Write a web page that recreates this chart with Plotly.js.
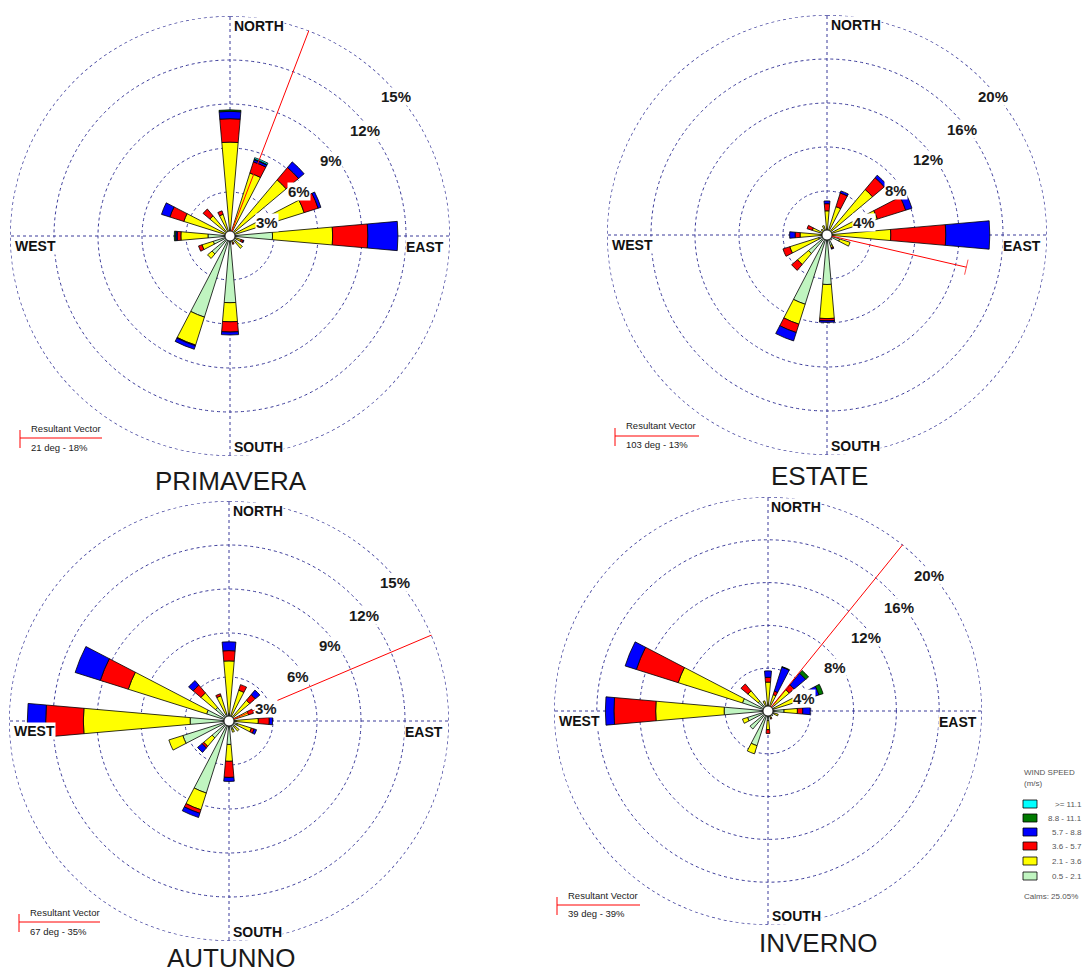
<!DOCTYPE html>
<html><head><meta charset="utf-8">
<script src="https://cdn.plot.ly/plotly-3.0.1.min.js"></script>
<style>html,body{margin:0;padding:0;background:#fff}#chart{width:1089px;height:972px}</style>
</head><body><div id="chart"></div>
<script>
// ---------------- DATA ----------------
const directions = [0,22.5,45,67.5,90,112.5,135,157.5,180,202.5,225,247.5,270,292.5,315,337.5];
const speedClasses = ['0.5 - 2.1','2.1 - 3.6','3.6 - 5.7','5.7 - 8.8','8.8 - 11.1','>= 11.1'];
const seasons = ['PRIMAVERA','ESTATE','AUTUNNO','INVERNO'];

// PRIMAVERA (% frequency per speed class, N..NNW)
const primavera_05_21  = [0.3,0.2,0.3,0.3,2.9,0.4,0.5,0.3,4.55,5.8,1.6,1.2,1.5,0.3,0.3,0.2];
const primavera_21_36  = [6.1,4.3,4.7,5.0,4.1,0.4,0.6,0.2,1.3,2.0,0.4,0.8,1.85,3.0,1.5,1.35];
const primavera_36_57  = [1.6,0.8,1.1,1.0,2.4,0.15,0,0.1,0.7,0.05,0,0.25,0.25,1.0,0.6,0.25];
const primavera_57_88  = [0.5,0.15,0.5,0.2,2.05,0.05,0,0,0.2,0.25,0,0,0.1,0.6,0,0];
const primavera_88_111 = [0.1,0.05,0,0,0,0,0,0,0,0,0,0,0.1,0,0,0];
const primavera_111    = [0,0.1,0,0,0,0,0,0,0,0,0,0,0,0,0,0];

// ESTATE
const estate_05_21  = [0.2,0.2,0.3,0.3,0.5,1.2,0.6,1.0,4.5,6.6,2.2,0.8,0.5,0.3,0.3,0.3];
const estate_21_36  = [2.0,2.5,5.1,4.5,5.3,1.0,0,0.2,3.1,1.9,1.3,2.75,1.95,1.1,0.4,0.6];
const estate_36_57  = [0.65,1.3,1.4,2.7,5.0,0,0,0.1,0.2,0.8,0.7,0.65,0.45,0.5,0,0];
const estate_57_88  = [0.25,0.2,0.3,0.6,4.0,0,0,0.05,0.15,0.8,0,0,0.5,0,0,0];
const estate_88_111 = [0,0,0,0,0,0,0,0,0,0,0,0,0,0,0,0];
const estate_111    = [0,0,0,0,0,0,0,0,0,0,0,0,0,0,0,0];

// AUTUNNO
const autunno_05_21  = [0.5,0.4,0.4,0.4,0.5,0.6,0.5,0.6,1.6,5.15,1.5,3.3,2.65,1.6,1.2,0.5];
const autunno_21_36  = [3.6,1.8,1.45,1.0,1.5,1.0,0.4,0.2,1.15,1.2,0.75,1.0,7.28,5.6,1.3,1.3];
const autunno_36_57  = [0.7,0.4,0.5,0.35,0.75,0.2,0,0,1.1,0.25,0.15,0,2.57,2.0,0.7,0.15];
const autunno_57_88  = [0.6,0,0.4,0,0.22,0.17,0,0,0.27,0.3,0.4,0,1.25,1.8,0.4,0];
const autunno_88_111 = [0,0,0,0,0,0,0,0,0,0,0,0,0,0,0,0];
const autunno_111    = [0,0,0,0,0,0,0,0,0,0,0,0,0,0,0,0];

// INVERNO
const inverno_05_21  = [0.4,0.4,0.8,0.6,1.5,0.6,0.6,0.5,0.9,3.4,2.2,2.0,4.1,2.5,1.2,0.5];
const inverno_21_36  = [2.3,1.2,1.8,2.4,1.25,0.4,0,0.2,0.85,0.8,0,0.5,6.4,6.3,1.25,0.5];
const inverno_36_57  = [0.45,0.35,0.6,0.7,0.5,0,0,0.1,0.35,0,0,0,3.9,4.1,0.85,0];
const inverno_57_88  = [0.6,2.35,1.4,1.3,0.7,0,0,0,0,0,0,0,0.8,1.1,0,0];
const inverno_88_111 = [0,0.05,0.35,0.4,0,0,0,0,0,0,0,0,0,0,0,0];
const inverno_111    = [0,0,0,0,0,0,0,0,0,0,0,0,0,0,0,0];

const ringTicks_primavera = [3,6,9,12,15];
const ringTicks_estate    = [4,8,12,16,20];
const ringTicks_autunno   = [3,6,9,12,15];
const ringTicks_inverno   = [4,8,12,16,20];

const resultantDeg = [21,103,67,39];
const resultantPct = [18,13,35,39];
const calmsPct = 25.05;

// ---------------- LAYOUT / STYLE ----------------
const W = 1089, H = 972;
const classColors = ['#c0f5c0','#ffff00','#ff0000','#0000ff','#007a00','#00ffff'];
const gridCol = '#3b3b9a';
const centers = [[230,236],[827,235],[229,721],[768,711]];
const radii = [220,220,220,214];
const frameHalf = [228,230,223,213];
const titlePos = [[231,481],[819,476],[231,958],[818,943]];
const resBox = [[20,428,438,447,102],[615,426,436,444,699],[19,912,922,931,100],[557,895,905,913,640]];

const seasonData = [
  [primavera_05_21,primavera_21_36,primavera_36_57,primavera_57_88,primavera_88_111,primavera_111],
  [estate_05_21,estate_21_36,estate_36_57,estate_57_88,estate_88_111,estate_111],
  [autunno_05_21,autunno_21_36,autunno_36_57,autunno_57_88,autunno_88_111,autunno_111],
  [inverno_05_21,inverno_21_36,inverno_36_57,inverno_57_88,inverno_88_111,inverno_111]
];
const seasonTicks = [ringTicks_primavera,ringTicks_estate,ringTicks_autunno,ringTicks_inverno];

const px = x => x / W;
const py = y => 1 - y / H;

const traces = [];
const layout = {
  width: W, height: H,
  margin: {l:0, r:0, t:0, b:0},
  paper_bgcolor: '#fff',
  showlegend: false,
  hovermode: false,
  annotations: [],
  shapes: []
};

const pctOffsets = [[36.5,-13],[69,-45],[101,-76],[135,-106],[166,-139]];
const compass = [['NORTH',2.5,-210],['EAST',175,11],['SOUTH',3,211],['WEST',-216,10]];
const ringTheta = [];
for (let a = 0; a <= 360; a += 1) ringTheta.push(a);

seasonData.forEach((classes, s) => {
  const sp = 'polar' + (s ? s + 1 : '');
  const [cx, cy] = centers[s];
  const R = radii[s];
  const ticks = seasonTicks[s];
  const rmax = ticks[ticks.length - 1];
  const k = R / 220;

  layout[sp] = {
    domain: {x: [px(cx - R), px(cx + R)], y: [py(cy + R), py(cy - R)]},
    bgcolor: '#fff',
    barmode: 'stack',
    radialaxis: {
      range: [0, rmax], tickvals: ticks, showticklabels: false, ticks: '',
      showline: false, showgrid: true, gridcolor: gridCol, gridwidth: 1, griddash: '3px,3px',
      layer: 'below traces'
    },
    angularaxis: {
      rotation: 90, direction: 'clockwise', tickvals: [0,90,180,270],
      showticklabels: false, ticks: '', showline: false, showgrid: true,
      gridcolor: gridCol, gridwidth: 1, griddash: '3px,3px', layer: 'below traces'
    }
  };

  // outermost ring (grid at the outer tick)
  traces.push({
    type: 'scatterpolar', subplot: sp, mode: 'lines', cliponaxis: false,
    r: ringTheta.map(() => rmax), theta: ringTheta,
    line: {color: gridCol, width: 1.4, dash: '3px,3px'}
  });

  classes.forEach((vals, c) => {
    traces.push({
      type: 'barpolar', subplot: sp, r: vals, theta: directions, width: 10,
      name: speedClasses[c],
      marker: {color: classColors[c], line: {color: '#000', width: 0.8}}
    });
  });

  // resultant vector
  const deg = resultantDeg[s], mag = resultantPct[s];
  const rad = deg * Math.PI / 180;
  const pxPer = R / rmax;
  const rClip = frameHalf[s] / Math.max(Math.abs(Math.sin(rad)), Math.abs(Math.cos(rad))) / pxPer;
  const clipped = mag > rClip;
  const rVis = Math.min(mag, rClip);
  traces.push({
    type: 'scatterpolar', subplot: sp, mode: 'lines+markers',
    r: [0, rVis], theta: [deg, deg], cliponaxis: false,
    line: {color: '#ff0000', width: 1},
    marker: {symbol: 'line-ew', size: [0, clipped ? 0 : 11], angle: [0, deg],
             color: '#ff0000', line: {color: '#ff0000', width: 1}}
  });

  // center circle
  layout.shapes.push({type:'circle', xref:'paper', yref:'paper', layer:'above',
    x0: px(cx-5), x1: px(cx+5), y0: py(cy+5), y1: py(cy-5),
    fillcolor:'#fff', line:{color:'#000', width:0.8}});

  // percentage labels
  ticks.forEach((t, i) => {
    const [ox, oy] = pctOffsets[i];
    layout.annotations.push({xref:'paper', yref:'paper', x: px(cx + ox*k), y: py(cy + oy*k),
      text: t + '%', showarrow:false, xanchor:'center', yanchor:'middle',
      bgcolor:'#fff', borderpad:0,
      font:{family:'Liberation Sans, Arial, sans-serif', size:15, weight:700, color:'#1a1a1a'}});
  });

  // compass labels
  compass.forEach(([txt, ox, oy]) => {
    layout.annotations.push({xref:'paper', yref:'paper', x: px(cx + ox*k), y: py(cy + oy*k),
      text: txt, showarrow:false, xanchor:'left', yanchor:'middle', bgcolor:'#fff', borderpad:0,
      font:{family:'Liberation Sans, Arial, sans-serif', size:14, weight:700, color:'#111'}});
  });

  // title
  layout.annotations.push({xref:'paper', yref:'paper', x: px(titlePos[s][0]), y: py(titlePos[s][1]),
    text: seasons[s], showarrow:false, xanchor:'center', yanchor:'middle',
    font:{family:'Liberation Sans, Arial, sans-serif', size:26, color:'#1a1a1a'}});

  // resultant vector box
  const [vx, y1, ly, y2, x2] = resBox[s];
  layout.shapes.push({type:'line', xref:'paper', yref:'paper', x0:px(vx), x1:px(vx), y0:py(ly-8), y1:py(ly+10),
    line:{color:'#ff0000', width:1}});
  layout.shapes.push({type:'line', xref:'paper', yref:'paper', x0:px(vx), x1:px(x2), y0:py(ly), y1:py(ly),
    line:{color:'#ff0000', width:1}});
  layout.annotations.push({xref:'paper', yref:'paper', x:px(vx+9), y:py(y1), text:'Resultant Vector',
    showarrow:false, xanchor:'left', yanchor:'middle',
    font:{family:'Liberation Sans, Arial, sans-serif', size:9.5, color:'#222'}});
  layout.annotations.push({xref:'paper', yref:'paper', x:px(vx+9), y:py(y2), text: deg + ' deg - ' + mag + '%',
    showarrow:false, xanchor:'left', yanchor:'middle',
    font:{family:'Liberation Sans, Arial, sans-serif', size:9.5, color:'#222'}});
});

// wind speed legend
const legFont = {family:'Liberation Sans, Arial, sans-serif', size:8, color:'#555'};
layout.annotations.push({xref:'paper', yref:'paper', x:px(1022), y:py(772), text:'WIND SPEED',
  showarrow:false, xanchor:'left', yanchor:'middle', font:legFont});
layout.annotations.push({xref:'paper', yref:'paper', x:px(1022), y:py(783), text:'(m/s)',
  showarrow:false, xanchor:'left', yanchor:'middle', font:legFont});
const legRowsY = [804,818,832,846,861,876];
for (let i = 0; i < speedClasses.length; i++) {
  const c = speedClasses.length - 1 - i; // highest class on top
  const yy = legRowsY[i];
  layout.shapes.push({type:'rect', xref:'paper', yref:'paper', x0:px(1023), x1:px(1037), y0:py(yy+4), y1:py(yy-4),
    fillcolor: classColors[c], line:{color:'#000', width:0.8}});
  layout.annotations.push({xref:'paper', yref:'paper', x:px(1084), y:py(yy), text: speedClasses[c],
    showarrow:false, xanchor:'right', yanchor:'middle', font:legFont});
}
layout.annotations.push({xref:'paper', yref:'paper', x:px(1022), y:py(896), text:'Calms: ' + calmsPct.toFixed(2) + '%',
  showarrow:false, xanchor:'left', yanchor:'middle', font:legFont});

Plotly.newPlot('chart', traces, layout, {staticPlot:true, displayModeBar:false});
</script>
</body></html>
